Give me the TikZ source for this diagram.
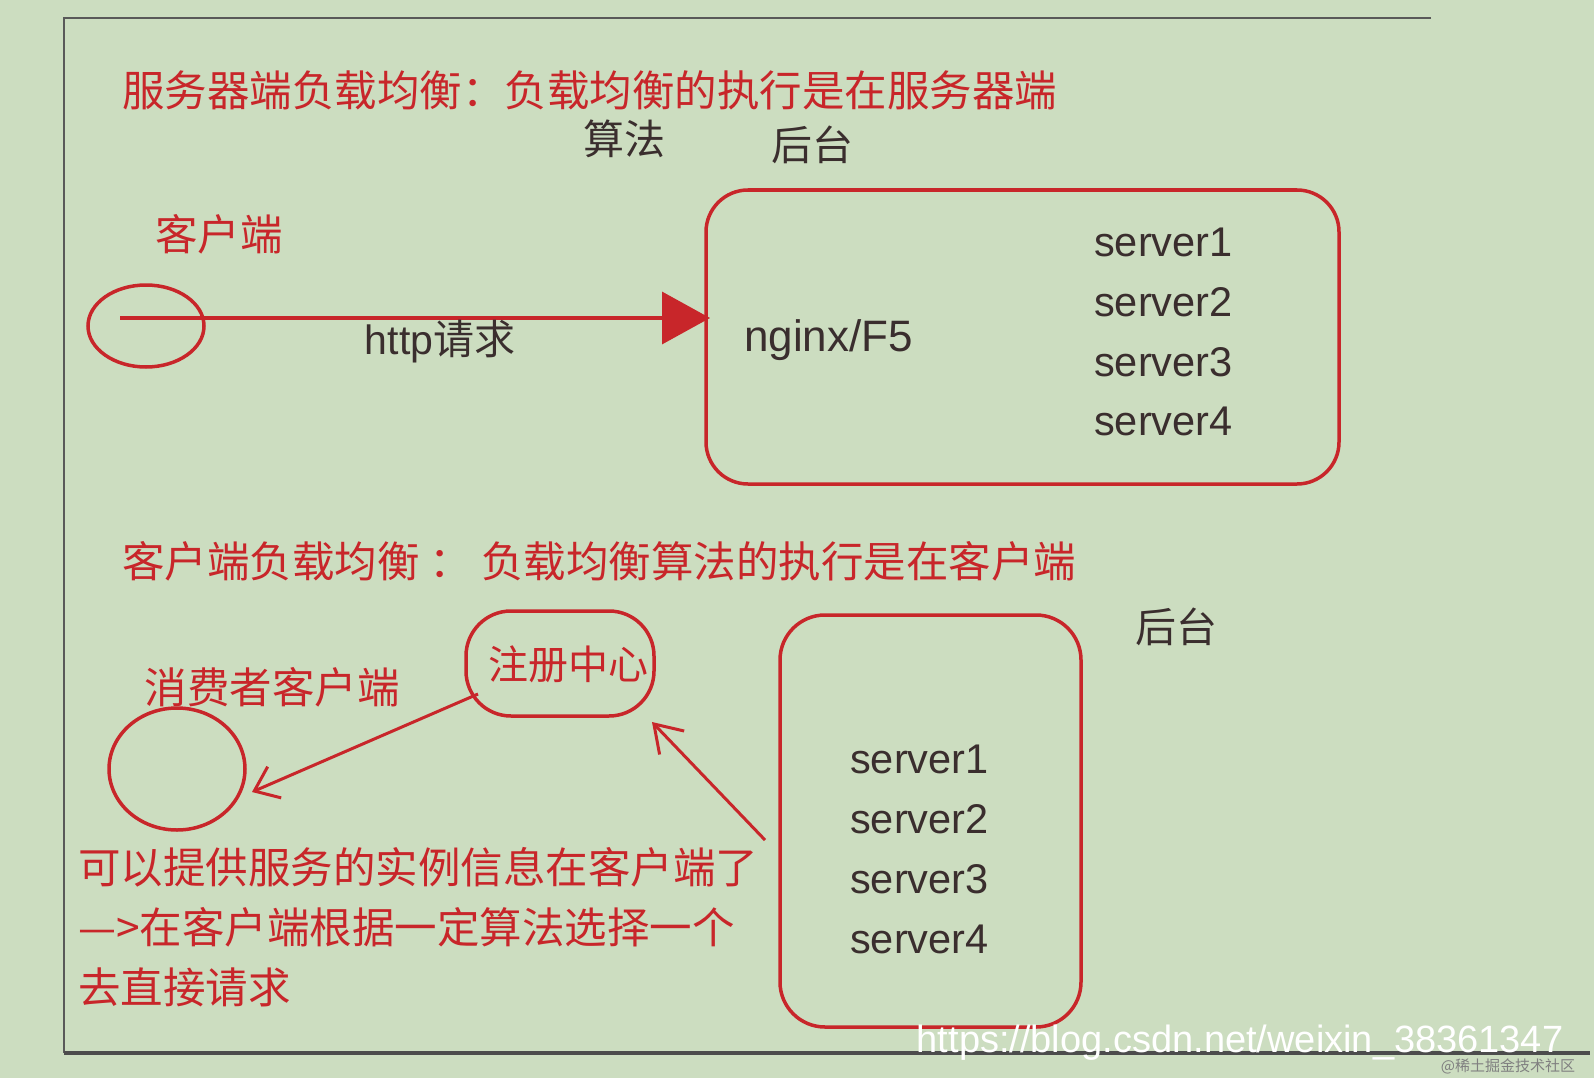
\documentclass[tikz,border=0pt]{standalone}
\usepackage{fontspec}
\setmainfont{Noto Sans CJK SC}[BoldFont={Noto Sans CJK SC Bold}]
\newfontfamily\latn{Liberation Sans}
\usetikzlibrary{arrows.meta}
\definecolor{bg}{HTML}{CCDDC0}
\definecolor{rd}{HTML}{C8262A}
\definecolor{dk}{HTML}{3A2E2E}
\tikzset{
 redt/.style={text=rd,font=\fontsize{42.5}{46}\selectfont,inner sep=0},
 dkt/.style={text=dk,font=\fontsize{41}{44}\selectfont,inner sep=0},
 srv/.style={text=dk,font=\latn\fontsize{41.5}{44}\selectfont,inner sep=0,anchor=west},
 rline/.style={draw=rd,line width=3.5pt},
}
\begin{document}
\begin{tikzpicture}[x=1pt,y=-1pt]
\fill[bg] (0,0) rectangle (1594,1078);
\useasboundingbox (0,0) rectangle (1594,1078);
\draw[gray!70!black,line width=1.2pt] (1431,18) -- (64,18) -- (64,1053);
\draw[gray!60!black,line width=4pt] (64,1053) -- (1590,1053);
% top section
\node[redt,anchor=west] (t1) at (122,90) {服务器端负载均衡：负载均衡的执行是在服务器端};
\node[dkt] (alg) at (624,139) {算法};
\node[dkt] (bk1) at (812,145) {后台};
\node[redt] (cl) at (219,234) {客户端};
\draw[rline] (146,326) ellipse (58 and 41);
\coordinate (a0) at (120,318);
\coordinate (a1) at (710,318);
\draw[rline,-{Triangle[length=48pt,width=52pt]}] (a0) -- (a1);
\node[dkt] (http) at (440,342) {{\latn http}请求};
\draw[rline,rounded corners=42pt] (706,190) rectangle (1339,484);
\node[dkt,anchor=west,font=\latn\fontsize{44}{48}\selectfont] (ng) at (744,340) {nginx/F5};
\node[srv] (s1) at (1094,242) {server1};
\node[srv] (s2) at (1094,302) {server2};
\node[srv] (s3) at (1094,362) {server3};
\node[srv] (s4) at (1094,421) {server4};
% bottom section
\node[redt,anchor=west] (t2) at (122,561) {客户端负载均衡 ： 负载均衡算法的执行是在客户端};
\node[dkt] (bk2) at (1176,627) {后台};
\node[redt] (con) at (272,687) {消费者客户端};
\draw[rline,rounded corners=45pt] (466,611) rectangle (654,716);
\node[redt,font=\fontsize{40}{44}\selectfont] (reg) at (568,664) {注册中心};
\draw[rline] (177,769) ellipse (68 and 61);
\coordinate (r0) at (478,694);
\coordinate (r1) at (252,792);
\draw[draw=rd,line width=3pt,-{Straight Barb[length=22pt,width=34pt]}] (r0) -- (r1);
\coordinate (q0) at (765,840);
\coordinate (q1) at (652,722);
\draw[draw=rd,line width=3pt,-{Straight Barb[length=26pt,width=34pt]}] (q0) -- (q1);
\draw[rline,rounded corners=45pt] (780,615) rectangle (1081,1027);
\node[srv] (u1) at (850,759) {server1};
\node[srv] (u2) at (850,819) {server2};
\node[srv] (u3) at (850,879) {server3};
\node[srv] (u4) at (850,939) {server4};
\node[redt,anchor=west,align=left,font=\fontsize{42.5}{60}\selectfont] (desc) at (78,927) {可以提供服务的实例信息在客户端了\\—>在客户端根据一定算法选择一个\\去直接请求};
% watermark
\node[text=white,font=\latn\fontsize{38}{40}\selectfont,inner sep=0] (wm) at (1240,1043) {https://blog.csdn.net/weixin\_38361347};
\node[text=gray,font=\fontsize{15}{18}\selectfont,inner sep=0] (wm2) at (1508,1066) {@稀土掘金技术社区};
\end{tikzpicture}
\end{document}
